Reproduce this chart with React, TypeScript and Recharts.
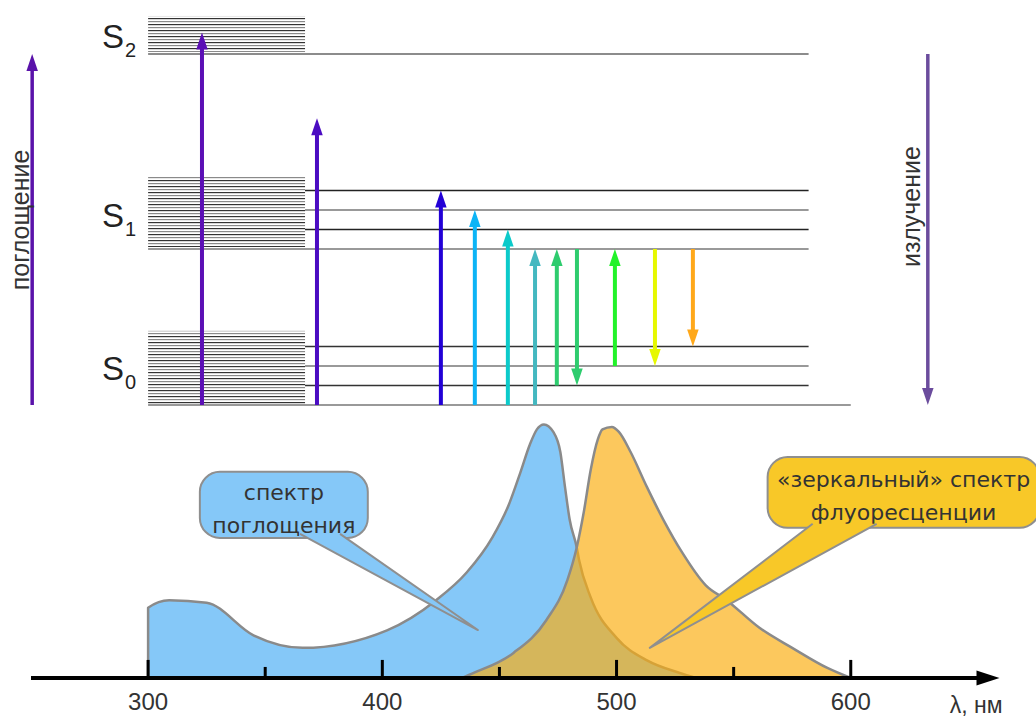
import React from 'react';
import { ComposedChart, Area, XAxis, YAxis, ReferenceLine, ReferenceArea, ReferenceDot } from 'recharts';

// wavelength axis, nm
const axisTicks = [300, 400, 500, 600];
const majorTicks = [300, 400, 500, 600];
const minorTicks = [350, 450, 550];

// absorption spectrum (relative intensity, peak = 100)
const absorptionNm = [300, 300, 309, 325, 345, 366, 402, 423, 436, 447, 454, 459, 463, 466, 469, 473, 476, 478, 480, 483, 484, 489, 500, 513, 527, 534];
const absorptionVal = [0, 28, 31, 30, 17, 12, 19, 31, 42, 56, 69, 82, 93, 99, 101, 98, 90, 76, 63, 52, 47, 32, 16, 7, 2, 0];

// "mirror" fluorescence spectrum
const fluorescenceNm = [434, 439, 456, 470, 479, 483, 486, 489, 492, 494, 498, 501, 506, 513, 520, 528, 538, 547, 561, 575, 590, 600];
const fluorescenceVal = [0, 2, 10, 23, 39, 52, 66, 83, 95, 99, 100, 98, 90, 76, 63, 50, 37, 31, 20, 12, 4, 0];

// Jablonski diagram: vibrational sublevel bands (energy units) and levels
const bands = [
  { name: 'S2', from: 18.1, to: 19.95 },
  { name: 'S1', from: 8.1, to: 11.74 },
  { name: 'S0', from: 0.05, to: 3.8 },
];
const levels = [
  { e: 18, x1: 300, x2: 582, color: '#666' },
  { e: 11, x1: 367, x2: 582, color: '#222' },
  { e: 10, x1: 367, x2: 582, color: '#777' },
  { e: 9, x1: 367, x2: 582, color: '#222' },
  { e: 8, x1: 300, x2: 582, color: '#777' },
  { e: 3, x1: 367, x2: 582, color: '#333' },
  { e: 2, x1: 367, x2: 582, color: '#777' },
  { e: 1, x1: 367, x2: 582, color: '#333' },
  { e: 0, x1: 300, x2: 600, color: '#777' },
];
const stateLabels = [
  { sub: '2', x: 280.3, e: 18.31 },
  { sub: '1', x: 280.3, e: 9.13 },
  { sub: '0', x: 280.3, e: 1.28 },
];

// transitions: x position, from -> to energy
const transitions = [
  { x: 250.5, from: 0, to: 18, color: '#5a12aa', w: 3.5 },
  { x: 323, from: 0, to: 19.1, color: '#5b0fb5', w: 4 },
  { x: 372.1, from: 0, to: 14.7, color: '#4b0cc2', w: 4 },
  { x: 425, from: 0, to: 11, color: '#2200d6', w: 4 },
  { x: 439.5, from: 0, to: 10, color: '#0cb4f6', w: 4 },
  { x: 453.6, from: 0, to: 9, color: '#0ccaca', w: 4 },
  { x: 465.2, from: 0, to: 8, color: '#44b8c0', w: 4 },
  { x: 474.5, from: 1, to: 8, color: '#2ecc6e', w: 4 },
  { x: 483.1, from: 8, to: 1, color: '#2ecc6e', w: 4 },
  { x: 499.3, from: 2, to: 8, color: '#22f22a', w: 4 },
  { x: 516.4, from: 8, to: 2, color: '#e6f800', w: 4 },
  { x: 532.6, from: 8, to: 3, color: '#ffa81a', w: 4 },
  { x: 632.9, from: 18, to: 0, color: '#6b4c9d', w: 3.5 },
];
const sideLabels = [
  { text: 'поглощение', x: 245.3, e: 9.49 },
  { text: 'излучение', x: 625.7, e: 10.18 },
];

const callouts = [
  {
    lines: ['спектр', 'поглощения'],
    x1: 322.1, x2: 393.8, y1: 55.8, y2: 82.1,
    baseX: 373.4, baseY: 57.4, tipX: 440.8, tipY: 19.1, half: 20,
    fill: '#85c8f8', rows: [28, 61],
  },
  {
    lines: ['«зеркальный» спектр', 'флуоресценции'],
    x1: 564.5, x2: 680.6, y1: 59.8, y2: 88,
    baseX: 597.4, baseY: 61.4, tipX: 514.2, tipY: 12, half: 32,
    fill: '#f8c828', rows: [30, 63],
  },
];

const rows = [
  ...absorptionNm.map((nm, i) => ({ nm, absorption: absorptionVal[i] } as any)),
  ...fluorescenceNm.map((nm, i) => ({ nm, fluorescence: fluorescenceVal[i] } as any)),
].sort((a, b) => a.nm - b.nm);

const arrowShape = (color: string, w: number, headW: number, headL: number) => (p: any) => {
  const { x1, y1, x2, y2 } = p;
  const len = Math.hypot(x2 - x1, y2 - y1) || 1;
  const ux = (x2 - x1) / len;
  const uy = (y2 - y1) / len;
  const bx = x2 - ux * headL;
  const by = y2 - uy * headL;
  const hw = headW / 2;
  return (
    <g>
      <line x1={x1} y1={y1} x2={bx + ux} y2={by + uy} stroke={color} strokeWidth={w} />
      <polygon
        points={`${x2},${y2} ${bx - uy * hw},${by + ux * hw} ${bx + uy * hw},${by - ux * hw}`}
        fill={color}
      />
    </g>
  );
};

const bandShape = (p: any) => (
  <g>
    <defs>
      <pattern id="sublevels" width={12} height={6} patternUnits="userSpaceOnUse">
        <rect x={0} y={0} width={12} height={1.2} fill="#333" />
        <rect x={0} y={3} width={12} height={1.2} fill="#8a8a8a" />
      </pattern>
    </defs>
    <rect x={p.x} y={p.y} width={p.width} height={p.height} fill="url(#sublevels)" />
  </g>
);

const FONT = '"Liberation Sans", Arial, sans-serif';
const CALLOUT_FONT = '"DejaVu Sans", sans-serif';

export default function App() {
  return (
    <div style={{ width: 1036, height: 717, background: '#fff', fontFamily: FONT }}>
      <style>{'body{margin:0}'}</style>
      <ComposedChart width={1036} height={717} data={rows} margin={{ top: 0, right: 33, bottom: 0, left: 31 }}>
        <XAxis
          dataKey="nm"
          type="number"
          domain={[250, 665]}
          allowDataOverflow
          ticks={axisTicks}
          interval={0}
          tickLine={false}
          axisLine={false}
          tickSize={0}
          tickMargin={15}
          height={39}
          tick={{ fontSize: 24, fill: '#333', fontFamily: FONT }}
        />
        <YAxis yAxisId="spec" hide type="number" domain={[0, 270]} allowDataOverflow />
        <YAxis yAxisId="energy" hide type="number" domain={[-14, 20.77]} allowDataOverflow />

        <Area
          yAxisId="spec"
          type="monotone"
          dataKey="absorption"
          connectNulls
          fill="#85c8f8"
          fillOpacity={1}
          stroke="#8a8a8a"
          strokeWidth={2.5}
          strokeLinejoin="round"
          dot={false}
          activeDot={false}
          isAnimationActive={false}
          zIndex={100}
        />
        <Area
          yAxisId="spec"
          type="monotone"
          dataKey="fluorescence"
          connectNulls
          fill="#faae10"
          fillOpacity={0.68}
          stroke="#8a8a8a"
          strokeWidth={2.5}
          strokeLinejoin="round"
          dot={false}
          activeDot={false}
          isAnimationActive={false}
          zIndex={101}
        />

        {bands.map((b) => (
          <ReferenceArea
            key={b.name}
            yAxisId="energy"
            x1={300}
            x2={367}
            y1={b.from}
            y2={b.to}
            ifOverflow="visible"
            shape={bandShape}
            zIndex={200}
          />
        ))}
        {levels.map((l, i) => (
          <ReferenceLine
            key={`lv-${i}`}
            yAxisId="energy"
            segment={[{ x: l.x1, y: l.e }, { x: l.x2, y: l.e }]}
            stroke={l.color}
            strokeWidth={1.6}
            ifOverflow="visible"
            zIndex={210}
          />
        ))}
        {transitions.map((t, i) => (
          <ReferenceLine
            key={`tr-${i}`}
            yAxisId="energy"
            segment={[{ x: t.x, y: t.from }, { x: t.x, y: t.to }]}
            stroke={t.color}
            ifOverflow="visible"
            shape={arrowShape(t.color, t.w, 11.5, 17)}
            zIndex={220}
          />
        ))}
        {stateLabels.map((s) => (
          <ReferenceDot
            key={`s-${s.sub}`}
            yAxisId="energy"
            x={s.x}
            y={s.e}
            ifOverflow="visible"
            zIndex={230}
            shape={(p: any) => (
              <text x={p.cx} y={p.cy} fill="#222" fontSize={33} fontFamily={FONT}>
                S
                <tspan fontSize={20} dx={1} dy={9}>
                  {s.sub}
                </tspan>
              </text>
            )}
          />
        ))}
        {sideLabels.map((s) => (
          <ReferenceDot
            key={s.text}
            yAxisId="energy"
            x={s.x}
            y={s.e}
            ifOverflow="visible"
            zIndex={230}
            shape={(p: any) => (
              <text
                x={p.cx}
                y={p.cy}
                transform={`rotate(-90, ${p.cx}, ${p.cy})`}
                textAnchor="middle"
                dominantBaseline="central"
                fill="#333"
                fontSize={25}
                fontFamily={FONT}
              >
                {s.text}
              </text>
            )}
          />
        ))}

        {callouts.map((c, i) => (
          <ReferenceArea
            key={`box-${i}`}
            yAxisId="spec"
            x1={c.x1}
            x2={c.x2}
            y1={c.y1}
            y2={c.y2}
            ifOverflow="visible"
            zIndex={600}
            shape={(p: any) => (
              <g>
                <rect x={p.x} y={p.y} width={p.width} height={p.height} rx={20} fill={c.fill} stroke="#8f8f8f" strokeWidth={2} />
                {c.lines.map((t, j) => (
                  <text
                    key={j}
                    x={p.x + p.width / 2}
                    y={p.y + c.rows[j]}
                    textAnchor="middle"
                    fill="#333"
                    fontSize={22}
                    fontFamily={CALLOUT_FONT}
                  >
                    {t}
                  </text>
                ))}
              </g>
            )}
          />
        ))}
        {callouts.map((c, i) => (
          <ReferenceLine
            key={`tail-${i}`}
            yAxisId="spec"
            segment={[{ x: c.baseX, y: c.baseY }, { x: c.tipX, y: c.tipY }]}
            ifOverflow="visible"
            zIndex={610}
            shape={(p: any) => (
              <path
                d={`M${p.x1 - c.half},${p.y1} L${p.x2},${p.y2} L${p.x1 + c.half},${p.y1}`}
                fill={c.fill}
                stroke="#8f8f8f"
                strokeWidth={2}
                strokeLinejoin="round"
              />
            )}
          />
        ))}

        {majorTicks.map((t) => (
          <ReferenceLine
            key={`mj-${t}`}
            yAxisId="spec"
            segment={[{ x: t, y: 0 }, { x: t, y: 7.2 }]}
            stroke="#000"
            strokeWidth={3}
            ifOverflow="visible"
            zIndex={700}
          />
        ))}
        {minorTicks.map((t) => (
          <ReferenceLine
            key={`mn-${t}`}
            yAxisId="spec"
            segment={[{ x: t, y: 0 }, { x: t, y: 4.4 }]}
            stroke="#000"
            strokeWidth={3}
            ifOverflow="visible"
            zIndex={700}
          />
        ))}
        <ReferenceLine
          yAxisId="spec"
          segment={[{ x: 250, y: 0 }, { x: 663.5, y: 0 }]}
          ifOverflow="visible"
          zIndex={710}
          shape={arrowShape('#000', 4, 15, 23)}
        />
        <ReferenceDot
          yAxisId="spec"
          x={653.5}
          y={-13.9}
          ifOverflow="visible"
          zIndex={710}
          shape={(p: any) => (
            <text x={p.cx} y={p.cy} textAnchor="middle" fill="#333" fontSize={23} fontFamily={FONT}>
              λ, нм
            </text>
          )}
        />
      </ComposedChart>
    </div>
  );
}
